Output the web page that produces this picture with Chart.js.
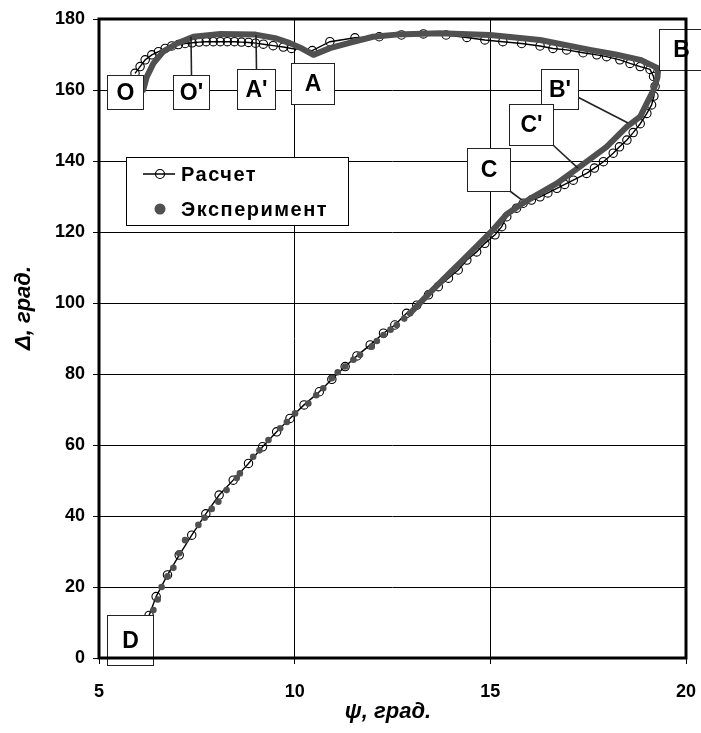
<!DOCTYPE html>
<html>
<head>
<meta charset="utf-8">
<script src="https://cdn.jsdelivr.net/npm/chart.js@4/dist/chart.umd.min.js"></script>
<style>
  html, body { margin: 0; padding: 0; background: #fff; }
  #wrap { width: 701px; height: 733px; }
</style>
</head>
<body>
<div id="wrap"><canvas id="c" width="701" height="733"></canvas></div>
<script>
// Calculated trajectory (psi, Delta), degrees: O -> A -> B -> C -> D
const calcPsi = [5.92, 6.05, 6.18, 6.35, 6.52, 6.69, 6.86, 7.03, 7.20, 7.38, 7.56, 7.74, 7.92, 8.10, 8.28, 8.46, 8.64, 8.82, 9.00, 9.20, 9.45, 9.71, 9.92, 10.45,
  10.90, 11.54, 12.16, 12.73, 13.29, 13.87, 14.40, 14.86, 15.32, 15.80, 16.27, 16.60, 16.95, 17.37, 17.72, 17.97, 18.31, 18.57, 18.83, 19.08,
  19.17, 19.21, 19.18, 19.12, 19.00, 18.83, 18.65, 18.49, 18.30, 18.14, 17.89, 17.66, 17.46, 17.12, 16.90, 16.70, 16.47, 16.27, 16.05, 15.84,
  15.67, 15.42, 15.29, 15.12, 14.86, 14.65, 14.40, 14.18, 13.93, 13.67, 13.42, 13.12, 12.86, 12.56, 12.27, 11.93, 11.59, 11.29, 10.95, 10.63,
  10.24, 9.88, 9.54, 9.18, 8.82, 8.43, 8.07, 7.73, 7.37, 7.05, 6.75, 6.46, 6.28];
const calcDelta = [164.7, 166.6, 168.5, 169.9, 170.8, 171.7, 172.4, 172.8, 173.1, 173.3, 173.5, 173.6, 173.6, 173.6, 173.6, 173.6, 173.5, 173.4, 173.2, 172.9, 172.5, 172.1, 171.7, 171.1,
  173.6, 174.7, 175.0, 175.5, 175.8, 175.5, 174.8, 174.1, 173.6, 173.1, 172.4, 171.7, 171.3, 170.5, 169.9, 169.4, 168.5, 167.5, 166.6, 165.8,
  163.8, 161.0, 158.3, 155.8, 153.4, 150.5, 148.0, 145.9, 144.0, 142.2, 139.8, 138.0, 136.5, 134.6, 133.4, 132.3, 131.0, 129.9, 129.0, 128.1,
  126.7, 124.3, 121.5, 119.2, 116.8, 114.4, 112.1, 109.3, 107.0, 104.6, 102.3, 99.4, 97.1, 93.8, 91.5, 88.2, 85.1, 82.1, 78.5, 75.0,
  71.3, 67.5, 63.7, 59.5, 54.8, 50.1, 45.9, 40.6, 34.6, 29.0, 23.4, 17.3, 12.0];

// Measured points, lower branch (sparse dots): D upwards
const expLowPsi = [6.39, 6.50, 6.60, 6.75, 6.90, 7.05, 7.20, 7.54, 7.70, 7.88, 8.05, 8.26, 8.52, 8.60, 8.94, 9.10, 9.33, 9.63, 9.80, 10.01,
  10.35, 10.55, 10.73, 10.95, 11.10, 11.29, 11.50, 11.67, 11.97, 12.10, 12.27, 12.45, 12.61, 12.80, 12.95];
const expLowDelta = [13.5, 16.5, 20.0, 23.0, 25.4, 29.5, 33.2, 37.5, 39.5, 42.0, 44.0, 47.3, 50.7, 52.0, 56.7, 58.5, 61.4, 64.7, 66.5, 68.9,
  71.7, 74.0, 76.0, 78.8, 80.5, 82.1, 84.0, 85.4, 87.7, 89.3, 91.0, 92.5, 93.8, 95.6, 97.1];

// Measured points, dense part: C -> B -> A -> O
const expHighPsi = [12.95, 13.40, 13.90, 14.40, 15.00, 15.42, 15.76, 16.10, 16.70, 17.29, 17.97, 18.49, 18.83, 19.00, 19.17, 19.27, 19.29,
  18.83, 18.20, 17.55, 16.27, 14.99, 13.71, 12.60, 12.00, 11.40, 10.90, 10.48, 10.20, 9.88, 9.50, 9.00, 8.10, 7.41, 6.99, 6.64, 6.39, 6.22, 6.13];
const expHighDelta = [97.1, 102.3, 107.8, 113.2, 119.8, 125.0, 127.6, 129.9, 133.7, 138.4, 144.0, 149.7, 152.5, 156.3, 160.0, 163.5, 166.1,
  168.5, 170.0, 171.3, 174.1, 175.5, 176.0, 175.6, 175.0, 173.3, 171.8, 169.9, 171.6, 173.2, 174.6, 175.6, 175.8, 175.0, 173.1, 170.8, 167.5, 163.7, 160.0];

// Axis ranges and tick steps
const psiTicks = [5, 10, 15, 20];
const deltaTicks = [0, 20, 40, 60, 80, 100, 120, 140, 160, 180];

// Point-name callouts: text, box centre (psi, Delta), leader target (psi, Delta)
const markNames = ['O', "O'", "A'", 'A', 'B', "B'", "C'", 'C', 'D'];
const markBoxPsi = [5.664, 7.351, 9.012, 10.456, 19.873, 16.768, 16.04, 14.954, 5.792];
const markBoxDelta = [159.4, 159.4, 160.3, 161.8, 171.4, 160.3, 150.3, 137.6, 5.07];
const markTipPsi = [null, 7.351, 9.012, null, null, 18.52, 17.24, 15.81, null];
const markTipDelta = [null, 175.0, 175.4, null, null, 150.7, 138.0, 129.0, null];

const FONT = '"Liberation Sans", Arial, Helvetica, sans-serif';
const GREY = '#505050';

const pts = (xs, ys) => xs.map((x, i) => ({ x, y: ys[i] }));

// box geometry (w, h) and where the leader leaves the box (fractions of w, h)
const boxStyle = {
  'O': { w: 36, h: 34 }, "O'": { w: 36, h: 34, ax: 0.5, ay: 0 }, "A'": { w: 38, h: 40, ax: 0.5, ay: 0 },
  'A': { w: 43, h: 41 }, 'B': { w: 44, h: 41 }, "B'": { w: 37, h: 40, ax: 1, ay: 0.7 },
  "C'": { w: 44, h: 41, ax: 1, ay: 1 }, 'C': { w: 43, h: 43, ax: 1, ay: 1 }, 'D': { w: 46, h: 50 }
};

const calloutPlugin = {
  id: 'callouts',
  afterDatasetsDraw(chart) {
    const { ctx, scales: { x, y } } = chart;
    ctx.save();
    markNames.forEach((name, i) => {
      const st = boxStyle[name];
      const cx = x.getPixelForValue(markBoxPsi[i]);
      const cy = y.getPixelForValue(markBoxDelta[i]);
      const left = Math.round(cx - st.w / 2) + 0.5;
      const top = Math.round(cy - st.h / 2) + 0.5;
      if (markTipPsi[i] !== null) {
        ctx.beginPath();
        ctx.strokeStyle = '#222';
        ctx.lineWidth = 1.6;
        ctx.moveTo(left + st.w * st.ax, top + st.h * st.ay);
        ctx.lineTo(x.getPixelForValue(markTipPsi[i]), y.getPixelForValue(markTipDelta[i]));
        ctx.stroke();
      }
      ctx.fillStyle = '#fff';
      ctx.fillRect(left, top, st.w, st.h);
      ctx.strokeStyle = '#222';
      ctx.lineWidth = 1;
      ctx.strokeRect(left, top, st.w, st.h);
      ctx.fillStyle = '#000';
      ctx.font = 'bold 23px ' + FONT;
      ctx.textAlign = 'center';
      ctx.textBaseline = 'middle';
      ctx.fillText(name, left + st.w / 2, top + st.h / 2 + 1);
    });
    ctx.restore();
  }
};

const framePlugin = {
  id: 'frame',
  afterDraw(chart) {
    const { ctx, chartArea: a } = chart;
    ctx.save();
    ctx.strokeStyle = '#000';
    ctx.lineWidth = 3;
    ctx.strokeRect(a.left, a.top, a.right - a.left, a.bottom - a.top);

    // axis titles
    ctx.fillStyle = '#000';
    ctx.font = 'italic bold 22px ' + FONT;
    ctx.textAlign = 'center';
    ctx.textBaseline = 'middle';
    ctx.fillText('ψ, град.', 388, 712);
    ctx.translate(24, 308);
    ctx.rotate(-Math.PI / 2);
    ctx.fillText('Δ, град.', 0, 0);
    ctx.restore();

    // legend box
    const ds = chart.data.datasets;
    const lx = a.left + 27, ly = a.top + 138, lw = 222, lh = 68;
    ctx.save();
    ctx.fillStyle = '#fff';
    ctx.fillRect(lx + 0.5, ly + 0.5, lw, lh);
    ctx.strokeStyle = '#000';
    ctx.lineWidth = 1;
    ctx.strokeRect(lx + 0.5, ly + 0.5, lw, lh);
    // calculated: line with open circle
    const y1 = ly + 17, y2 = ly + 52, mx = lx + 34;
    ctx.beginPath();
    ctx.moveTo(lx + 17, y1); ctx.lineTo(lx + 49, y1);
    ctx.strokeStyle = ds[0].borderColor; ctx.lineWidth = 1.5; ctx.stroke();
    ctx.beginPath(); ctx.arc(mx, y1, 4.5, 0, Math.PI * 2); ctx.lineWidth = 1.2; ctx.stroke();
    // experiment: filled dot
    ctx.beginPath(); ctx.arc(mx, y2, 5.5, 0, Math.PI * 2); ctx.fillStyle = GREY; ctx.fill();
    ctx.fillStyle = '#000';
    ctx.font = 'bold 20px ' + FONT;
    ctx.textAlign = 'left';
    ctx.textBaseline = 'middle';
    if ('letterSpacing' in ctx) ctx.letterSpacing = '1.5px';
    ctx.fillText(ds[0].label, lx + 55, y1 + 1);
    ctx.fillText(ds[1].label, lx + 55, y2 + 1);
    ctx.restore();
  }
};

new Chart(document.getElementById('c'), {
  type: 'scatter',
  data: {
    datasets: [
      {
        label: 'Расчет',
        data: pts(calcPsi, calcDelta),
        showLine: true,
        tension: 0,
        borderColor: '#000',
        borderWidth: 1.4,
        pointRadius: 4.2,
        pointBorderWidth: 1.1,
        pointBorderColor: '#000',
        pointBackgroundColor: 'rgba(0,0,0,0)',
        order: 3
      },
      {
        label: 'Эксперимент',
        data: pts(expHighPsi, expHighDelta),
        showLine: true,
        tension: 0,
        borderColor: GREY,
        borderWidth: 6,
        borderJoinStyle: 'round',
        borderCapStyle: 'round',
        pointRadius: 0,
        order: 1
      },
      {
        label: 'Эксперимент (нижняя ветвь)',
        data: pts(expLowPsi, expLowDelta),
        showLine: false,
        pointRadius: 3.3,
        pointBorderWidth: 0,
        pointBackgroundColor: GREY,
        order: 2
      }
    ]
  },
  options: {
    responsive: false,
    animation: false,
    events: [],
    layout: { padding: { top: 19, right: 15, left: 0, bottom: 0 } },
    plugins: { legend: { display: false }, tooltip: { enabled: false } },
    scales: {
      x: {
        type: 'linear',
        min: psiTicks[0],
        max: psiTicks[psiTicks.length - 1],
        afterBuildTicks: s => { s.ticks = psiTicks.map(v => ({ value: v })); },
        afterFit: s => { s.height = 75; s.paddingLeft = 0; s.paddingRight = 0; },
        ticks: { color: '#000', font: { family: FONT, size: 18, weight: 'bold' }, padding: 17, maxRotation: 0 },
        grid: { color: '#000', lineWidth: 1, tickLength: 6, tickColor: '#000' },
        border: { display: false }
      },
      y: {
        type: 'linear',
        min: deltaTicks[0],
        max: deltaTicks[deltaTicks.length - 1],
        afterBuildTicks: s => { s.ticks = deltaTicks.map(v => ({ value: v })); },
        afterFit: s => { s.width = 99; s.paddingTop = 0; s.paddingBottom = 0; },
        ticks: { color: '#000', font: { family: FONT, size: 18, weight: 'bold' }, padding: 8 },
        grid: { color: '#000', lineWidth: 1, tickLength: 6, tickColor: '#000' },
        border: { display: false }
      }
    }
  },
  plugins: [calloutPlugin, framePlugin]
});
</script>
</body>
</html>
